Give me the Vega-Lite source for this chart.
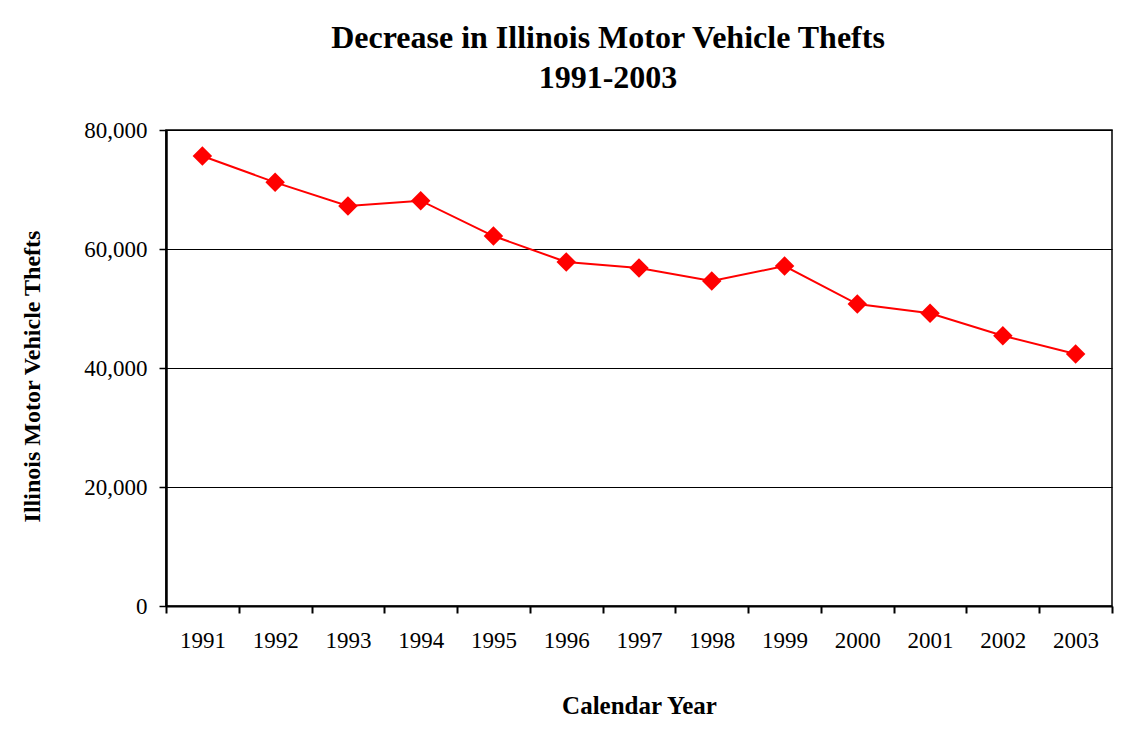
{
  "$schema": "https://vega.github.io/schema/vega-lite/v6.json",
  "width": 946,
  "height": 476,
  "autosize": {"type": "none"},
  "padding": {"left": 166, "top": 130, "right": 31, "bottom": 124},
  "background": "white",
  "title": {
    "text": ["Decrease in Illinois Motor Vehicle Thefts", "1991-2003"],
    "font": "Liberation Serif",
    "fontSize": 32,
    "fontWeight": "bold",
    "color": "black",
    "lineHeight": 40,
    "anchor": "middle",
    "frame": "group",
    "dx": -31,
    "offset": 24
  },
  "data": {
    "values": [
      {"year": "1991", "thefts": 75630},
      {"year": "1992", "thefts": 71200},
      {"year": "1993", "thefts": 67230},
      {"year": "1994", "thefts": 68120},
      {"year": "1995", "thefts": 62180},
      {"year": "1996", "thefts": 57820},
      {"year": "1997", "thefts": 56810},
      {"year": "1998", "thefts": 54620},
      {"year": "1999", "thefts": 57140},
      {"year": "2000", "thefts": 50750},
      {"year": "2001", "thefts": 49190},
      {"year": "2002", "thefts": 45430},
      {"year": "2003", "thefts": 42350}
    ]
  },
  "encoding": {
    "x": {
      "field": "year",
      "type": "ordinal",
      "scale": {"paddingInner": 0, "paddingOuter": 0},
      "axis": {
        "title": "Calendar Year",
        "titleFont": "Liberation Serif",
        "titleFontSize": 25,
        "titleFontWeight": "bold",
        "titleColor": "black",
        "titleBaseline": "middle",
        "titleY": 99,
        "labelAngle": 0,
        "labelFont": "Liberation Serif",
        "labelFontSize": 23,
        "labelColor": "black",
        "labelPadding": 16,
        "tickBand": "extent",
        "tickSize": 7,
        "tickWidth": 2,
        "tickColor": "black",
        "domainColor": "black",
        "domainWidth": 2,
        "grid": false
      }
    },
    "y": {
      "field": "thefts",
      "type": "quantitative",
      "scale": {"domain": [0, 80000], "nice": false},
      "axis": {
        "title": "Illinois Motor Vehicle Thefts",
        "titleFont": "Liberation Serif",
        "titleFontSize": 24,
        "titleFontWeight": "bold",
        "titleColor": "black",
        "titleAngle": -90,
        "titleBaseline": "middle",
        "titleX": -134,
        "titleY": 246,
        "values": [0, 20000, 40000, 60000, 80000],
        "format": ",d",
        "labelFont": "Liberation Serif",
        "labelFontSize": 23,
        "labelColor": "black",
        "labelPadding": 12,
        "tickSize": 7,
        "tickWidth": 1.5,
        "tickColor": "black",
        "domainColor": "black",
        "domainWidth": 2.5,
        "grid": true,
        "gridColor": "black",
        "gridWidth": 1.2,
        "gridOpacity": 1
      }
    }
  },
  "layer": [
    {"mark": {"type": "line", "color": "#FF0000", "strokeWidth": 2}},
    {"mark": {"type": "point", "shape": "diamond", "filled": true, "color": "#FF0000", "size": 380, "opacity": 1}}
  ],
  "config": {
    "view": {"stroke": "black", "strokeWidth": 1.5}
  }
}
